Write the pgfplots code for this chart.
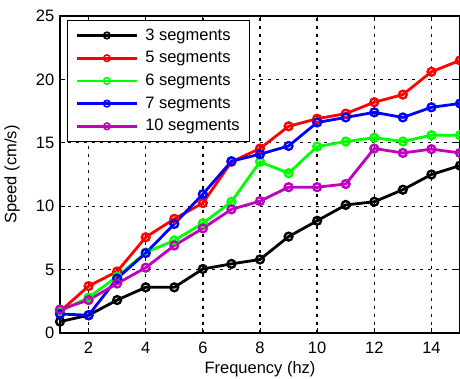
\documentclass[border=0pt]{standalone}
\usepackage{fontspec}
\setmainfont{Liberation Sans}
\usepackage{pgfplots}
\pgfplotsset{compat=1.18}
\definecolor{mpurple}{rgb}{0.75,0,0.75}
\definecolor{mgreen}{rgb}{0,1,0}
\definecolor{mred}{rgb}{1,0,0}
\definecolor{mblue}{rgb}{0,0,1}
\newcommand{\fs}{\fontsize{16.5}{19}\selectfont}
\begin{document}
\fs
\begin{tikzpicture}
\begin{axis}[
 scale only axis, width=400pt, height=317pt,
 xmin=1, xmax=15, ymin=0, ymax=25,
 xtick={2,4,...,14}, ytick={0,5,...,25},
 grid=major,
 major grid style={black, line width=1.3pt, dash pattern=on 3pt off 5pt},
 axis line style={line width=1.5pt},
 tick style={black, line width=1pt},
 major tick length=5pt, tick align=inside,
 ticklabel style={font=\fs},
 xticklabel style={anchor=base, yshift=-21pt},
 /pgf/number format/assume math mode=true,
 xlabel={Frequency (hz)}, ylabel={Speed (cm/s)},
 label style={font=\fs},
 xlabel style={at={(axis description cs:0.5,0)}, anchor=base, yshift=-40.5pt},
 ylabel style={at={(axis description cs:-0.12,0.5)}, anchor=center},
 legend cell align=left,
 legend style={at={(0,1)}, anchor=north west, xshift=7pt, yshift=-4pt,
   draw=black, line width=1pt, fill=white, font=\fs,
   row sep=4.8pt, inner xsep=8pt, inner ysep=6pt,
   /tikz/every odd column/.append style={column sep=5pt}},
 legend image code/.code={\draw[mark repeat=2,mark phase=2,#1, line width=2.8pt, mark size=3.3pt, mark options={solid,line width=1.6pt}] plot coordinates {(0pt,0pt)(30pt,0pt)(60pt,0pt)};},
 every axis plot/.append style={line width=2.8pt, mark=o, mark size=3.9pt, mark options={solid, line width=2.4pt}},
]
\addplot[black] coordinates {(1,0.9)(2,1.4)(3,2.6)(4,3.6)(5,3.6)(6,5.05)(7,5.45)(8,5.8)(9,7.6)(10,8.85)(11,10.1)(12,10.35)(13,11.3)(14,12.5)(15,13.2)};
\addlegendentry{3 segments}
\addplot[mred] coordinates {(1,1.7)(2,3.7)(3,4.85)(4,7.55)(5,9.0)(6,10.25)(7,13.5)(8,14.55)(9,16.3)(10,16.9)(11,17.3)(12,18.2)(13,18.8)(14,20.6)(15,21.5)};
\addlegendentry{5 segments}
\addplot[mgreen] coordinates {(1,1.7)(2,2.8)(3,4.45)(4,6.35)(5,7.3)(6,8.65)(7,10.35)(8,13.5)(9,12.6)(10,14.7)(11,15.1)(12,15.4)(13,15.1)(14,15.6)(15,15.6)};
\addlegendentry{6 segments}
\addplot[mblue] coordinates {(1,1.5)(2,1.4)(3,4.3)(4,6.3)(5,8.6)(6,10.95)(7,13.55)(8,14.1)(9,14.75)(10,16.6)(11,17.0)(12,17.4)(13,17.0)(14,17.8)(15,18.1)};
\addlegendentry{7 segments}
\addplot[mpurple] coordinates {(1,1.85)(2,2.6)(3,3.9)(4,5.15)(5,6.9)(6,8.25)(7,9.75)(8,10.4)(9,11.5)(10,11.5)(11,11.75)(12,14.55)(13,14.2)(14,14.5)(15,14.2)};
\addlegendentry{10 segments}
\end{axis}
\pgfresetboundingbox
\path ([shift={(-60pt,-46pt)}]current axis.south west) rectangle ([shift={(0pt,16pt)}]current axis.north east);
\end{tikzpicture}
\end{document}
